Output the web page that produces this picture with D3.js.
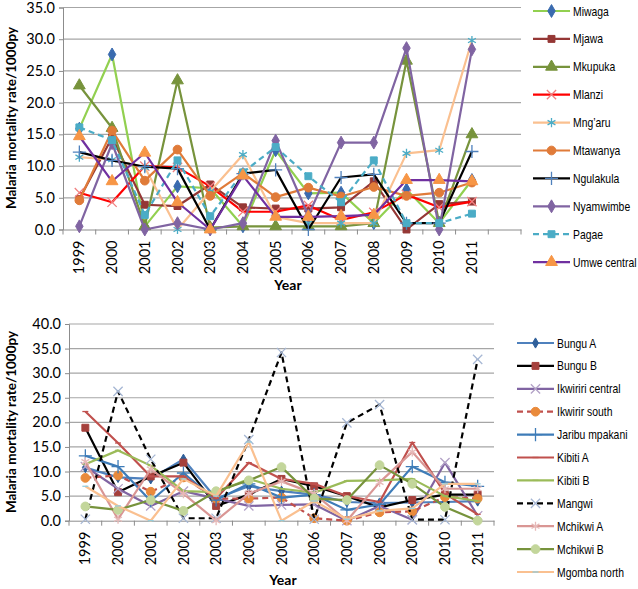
<!DOCTYPE html>
<html><head><meta charset="utf-8">
<script src="https://cdn.jsdelivr.net/npm/d3@7"></script>
<style>body{margin:0;background:#fff}svg{display:block}</style>
</head><body><svg id="c" width="638" height="589"></svg>
<script>
// ---------- data ----------
const years = ["1999","2000","2001","2002","2003","2004","2005","2006","2007","2008","2009","2010","2011"];
const yTicksTop = [0,5,10,15,20,25,30,35];
const yTicksBottom = [0,5,10,15,20,25,30,35,40];

const topNames = ["Miwaga","Mjawa","Mkupuka","Mlanzi","Mng\u2019aru","Mtawanya","Ngulakula","Nyamwimbe","Pagae","Umwe central"];
const miwaga      = [15.9,27.6,0.5,6.8,6.5,0.5,12.5,5.7,5.8,1.0,6.3,1.0,7.8];
const mjawa       = [4.8,14.5,3.9,3.7,7.1,3.5,3.3,3.3,3.5,7.6,0.0,4.0,4.4];
const mkupuka     = [22.7,16.0,0.5,23.5,0.3,0.5,0.5,0.5,0.5,1.0,26.6,1.0,15.0];
const mlanzi      = [5.8,4.3,10.0,9.8,6.8,2.8,2.8,3.8,1.5,2.7,5.5,3.5,4.4];
const mngaru      = [11.4,11.0,9.8,0.0,6.0,11.8,2.0,1.0,1.0,1.0,12.0,12.5,29.8];
const mtawanya    = [4.6,15.6,7.7,12.6,5.3,8.9,5.1,6.6,5.2,6.7,5.3,5.8,7.4];
const ngulakula   = [12.2,10.9,9.9,9.6,0.0,8.8,9.4,0.0,8.2,8.7,1.0,1.0,12.3];
const nyamwimbe   = [0.5,13.6,0.0,1.0,0.0,1.0,14.0,2.2,13.7,13.7,28.6,0.0,28.4];
const pagae       = [16.1,14.1,2.3,10.9,2.1,9.0,13.0,8.4,4.3,10.9,1.0,1.0,2.5];
const umweCentral = [14.7,7.6,12.1,4.3,0.0,8.5,2.0,2.0,2.1,2.3,7.8,7.8,7.6];
const topValues = [miwaga,mjawa,mkupuka,mlanzi,mngaru,mtawanya,ngulakula,nyamwimbe,pagae,umweCentral];

const bottomNames = ["Bungu A","Bungu B","Ikwiriri central","Ikwirir south","Jaribu mpakani","Kibiti A","Kibiti B","Mangwi","Mchikwi A","Mchikwi B","Mgomba north"];
const bunguA       = [10.8,8.8,8.5,12.5,4.5,7.0,6.0,5.3,3.8,3.6,3.7,3.8,4.0];
const bunguB       = [18.9,5.8,9.0,11.8,3.0,5.3,8.5,7.0,5.0,2.7,4.2,5.3,5.3];
const ikwiriCentral= [11.0,6.5,3.0,6.0,4.5,3.0,3.2,3.3,0.0,3.0,0.2,11.8,1.0];
const ikwirirSouth = [8.7,9.2,5.9,8.8,4.5,4.5,4.7,0.5,0.0,1.7,1.9,4.8,4.5];
const jaribu       = [13.2,11.0,4.0,9.7,4.2,7.5,4.7,5.3,2.2,3.3,11.0,7.8,7.0];
const kibitiA      = [22.2,15.8,9.0,9.0,4.5,11.8,8.5,7.5,5.0,3.8,15.9,5.5,1.3];
const kibitiB      = [11.5,14.3,11.2,6.0,5.8,8.5,6.5,5.7,8.1,8.2,8.5,5.0,4.0];
const mangwi       = [0.3,26.3,12.5,0.5,0.5,16.5,34.2,0.3,19.9,23.6,0.2,0.2,32.8];
const mchikwiA     = [12.0,0.3,10.5,5.5,0.0,5.5,8.0,5.5,0.0,7.8,14.0,6.5,6.5];
const mchikwiB     = [2.9,2.2,4.2,2.0,6.0,8.2,10.9,4.5,4.2,11.3,7.5,2.8,0.0];
const mgombaNorth  = [7.0,3.0,0.0,8.5,5.0,16.0,0.0,4.0,0.3,2.0,2.5,7.5,7.5];
const bottomValues = [bunguA,bunguB,ikwiriCentral,ikwirirSouth,jaribu,kibitiA,kibitiB,mangwi,mchikwiA,mchikwiB,mgombaNorth];

// ---------- styles ----------
const topStyles = [
  {c:"#92D050", m:"diamond", mc:"#3A6BAF"},
  {c:"#953735", m:"square",  mc:"#953735"},
  {c:"#77933C", m:"triangle",mc:"#77933C"},
  {c:"#FF0000", m:"x",       mc:"#F08080"},
  {c:"#FAC090", m:"asterisk",mc:"#4BACC6"},
  {c:"#E07B39", m:"circle",  mc:"#E07B39"},
  {c:"#000000", m:"plus",    mc:"#4F81BD"},
  {c:"#8064A2", m:"diamond", mc:"#8064A2"},
  {c:"#4BACC6", m:"square",  mc:"#4BACC6", dash:"6,4"},
  {c:"#7030A0", m:"triangle",mc:"#F79646"}
];
const bottomStyles = [
  {c:"#4F81BD", m:"diamond", mc:"#2F5F9A", ms:30},
  {c:"#000000", m:"square",  mc:"#A5403C"},
  {c:"#8064A2", m:"x",       mc:"#B3A2C7"},
  {c:"#C0504D", m:"circle",  mc:"#E98A3B", dash:"6,4"},
  {c:"#3E7CB8", m:"plus",    mc:"#3E7CB8"},
  {c:"#C0504D", m:"dash",    mc:"#C0504D"},
  {c:"#9BBB59", m:"dash",    mc:"#9BBB59"},
  {c:"#000000", m:"x",       mc:"#A6B7D4", dash:"6,4"},
  {c:"#D99694", m:"asterisk",mc:"#E6B9B8"},
  {c:"#77933C", m:"circle",  mc:"#C3D69B"},
  {c:"#FAC090", m:"dash",    mc:"#93CDDD"}
];

const svg = d3.select("#c");
const tickFont = "Lato, 'Open Sans', sans-serif";

function symbolPath(type, size) {
  const map = {
    diamond: d3.symbolDiamond, square: d3.symbolSquare, triangle: d3.symbolTriangle,
    circle: d3.symbolCircle, x: d3.symbolTimes || d3.symbolX, asterisk: d3.symbolAsterisk,
    plus: d3.symbolPlus
  };
  if (type === "dash") return "M-3,0L3,0";
  return d3.symbol().type(map[type]).size(size)();
}
function isStroke(t){ return t==="x"||t==="asterisk"||t==="plus"||t==="dash"; }

function drawMarker(g, st, x, y, scale) {
  const s = (st.ms || (st.m==="circle"?60:st.m==="triangle"?60:48)) * (scale||1);
  const stroke = isStroke(st.m);
  g.append("path")
    .attr("d", symbolPath(st.m, stroke ? s*1.2 : s))
    .attr("transform", `translate(${x},${y})`)
    .attr("fill", stroke ? "none" : st.mc)
    .attr("stroke", st.mc)
    .attr("stroke-width", stroke ? 1.3 : 1);
}

function drawPanel(cfg) {
  const g = svg.append("g");
  const domain = years.concat(cfg.extraBand ? [" "] : []);
  const x = d3.scaleBand().domain(domain).range([cfg.left, cfg.right]);
  const y = d3.scaleLinear().domain([0, cfg.max]).range([cfg.bottom, cfg.top]);

  // gridlines
  g.append("g").selectAll("line").data(cfg.ticks.filter(d=>d>0)).join("line")
    .attr("x1", cfg.left).attr("x2", cfg.right)
    .attr("y1", d=>y(d)).attr("y2", d=>y(d))
    .attr("stroke", "#A6A6A6").attr("stroke-width", 1.2);

  // y axis
  const ya = g.append("g").attr("transform", `translate(${cfg.left},0)`)
    .call(d3.axisLeft(y).tickValues(cfg.ticks).tickFormat(d3.format(".1f")).tickSize(4).tickPadding(4));
  ya.select(".domain").attr("stroke", "#8C8C8C");
  ya.selectAll(".tick line").attr("stroke", "#8C8C8C");
  ya.selectAll("text").attr("font-family", tickFont).attr("font-size", 14.5).attr("fill", "#000");

  // x axis
  const xa = g.append("g").attr("transform", `translate(0,${cfg.bottom})`)
    .call(d3.axisBottom(x).tickSize(0).tickFormat(d=>d));
  xa.select(".domain").attr("stroke", "#8C8C8C");
  xa.selectAll("text")
    .attr("font-family", tickFont).attr("font-size", 14.5).attr("fill", "#000")
    .attr("text-anchor", "end")
    .attr("transform", "rotate(-90)")
    .attr("x", -11).attr("y", 0).attr("dy", "0.35em");
  // boundary ticks
  const bounds = domain.map(d=>x(d)).concat([cfg.right]);
  g.append("g").selectAll("line").data(bounds).join("line")
    .attr("x1", d=>d).attr("x2", d=>d)
    .attr("y1", cfg.bottom).attr("y2", cfg.bottom+5)
    .attr("stroke", "#8C8C8C");

  const cx = d => x(d) + x.bandwidth()/2;
  const line = d3.line().x((v,i)=>cx(years[i])).y(v=>y(v));

  cfg.values.forEach((vals, si) => {
    const st = cfg.styles[si];
    g.append("path").datum(vals).attr("d", line)
      .attr("fill", "none").attr("stroke", st.c).attr("stroke-width", 2.2)
      .attr("stroke-linejoin", "round")
      .attr("stroke-dasharray", st.dash || null);
    const mg = g.append("g");
    vals.forEach((v,i) => drawMarker(mg, st, cx(years[i]), y(v)));
  });

  // legend
  const lg = g.append("g");
  cfg.names.forEach((name, i) => {
    const st = cfg.styles[i];
    const ly = cfg.legY + i*cfg.legStep;
    lg.append("line").attr("x1", cfg.legX).attr("x2", cfg.legX+37)
      .attr("y1", ly).attr("y2", ly)
      .attr("stroke", st.c).attr("stroke-width", 2.2)
      .attr("stroke-dasharray", st.dash || null);
    drawMarker(lg, st, cfg.legX+18.5, ly);
    lg.append("text")
      .attr("transform", `translate(${cfg.legX+40},${ly}) scale(0.8,1)`)
      .attr("dy", "0.35em")
      .attr("font-family", "'Liberation Sans', Arial, sans-serif")
      .attr("font-size", 13).attr("fill", "#000").text(name);
  });

  // titles
  g.append("text")
    .attr("transform", `translate(${cfg.ytX},${cfg.ytY}) rotate(-90)`)
    .attr("text-anchor", "middle")
    .attr("font-family", tickFont).attr("font-weight", "bold").attr("font-size", 13.5)
    .text("Malaria mortality rate/1000py");
  g.append("text")
    .attr("x", cfg.xtX).attr("y", cfg.xtY)
    .attr("text-anchor", "middle")
    .attr("font-family", tickFont).attr("font-weight", "bold").attr("font-size", 14)
    .text("Year");
}

drawPanel({
  left: 63, right: 521, top: 7.5, bottom: 229.5, max: 35, ticks: yTicksTop, extraBand: true,
  values: topValues, styles: topStyles, names: topNames,
  legX: 533, legY: 11, legStep: 27.9,
  ytX: 16, ytY: 118, xtX: 288, xtY: 290
});
drawPanel({
  left: 69, right: 494, top: 324, bottom: 520.7, max: 40, ticks: yTicksBottom, extraBand: false,
  values: bottomValues, styles: bottomStyles, names: bottomNames,
  legX: 517, legY: 343, legStep: 22.9,
  ytX: 16, ytY: 422, xtX: 283, xtY: 585
});
</script>
</body></html>
